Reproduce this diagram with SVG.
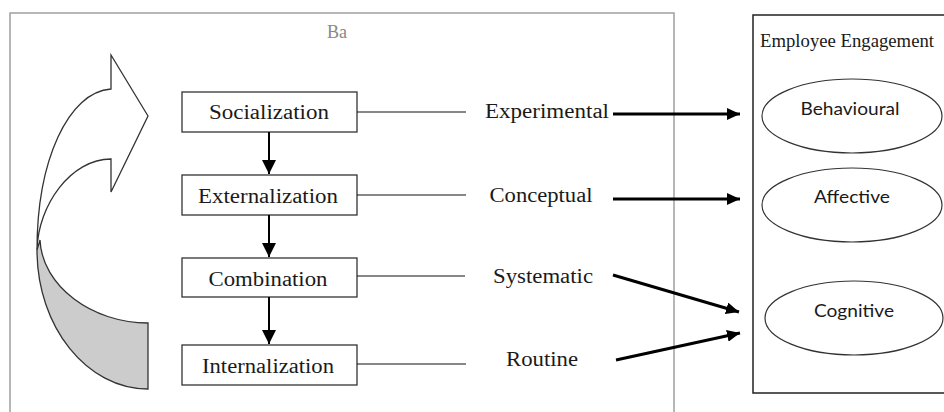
<svg xmlns="http://www.w3.org/2000/svg" width="944" height="412" viewBox="0 0 944 412">
<style>
.frame{fill:none;stroke:#a0a0a0;stroke-width:1.5}
.box{fill:#fff;stroke:#333;stroke-width:1.3}
.lbl{font-family:"Liberation Serif","Times New Roman",serif;font-size:20px;fill:#1a1a1a;text-anchor:middle}
.el{fill:#fff;stroke:#333;stroke-width:1.2}
.elt{font-family:Lato,"Liberation Sans",sans-serif;font-size:17px;fill:#1a1a1a;text-anchor:middle}
.thin{stroke:#111;stroke-width:1.2;fill:none}
.thick{stroke:#000;stroke-width:3;fill:none}
.vert{stroke:#000;stroke-width:2;fill:none}
.curve{stroke:#333;stroke-width:1.3}
</style>
<defs>
<marker id="ah" markerUnits="userSpaceOnUse" markerWidth="14" markerHeight="14" refX="14" refY="7" orient="auto" viewBox="0 0 14 14">
<path d="M0,0 L14,7 L0,14 Z" fill="#000"/>
</marker>
<marker id="ah2" markerUnits="userSpaceOnUse" markerWidth="13" markerHeight="12" refX="13" refY="6" orient="auto" viewBox="0 0 13 12">
<path d="M0,0 L13,6 L0,12 Z" fill="#000"/>
</marker>
</defs>
<rect x="0" y="0" width="944" height="412" fill="#fff"/>
<g id="ba">
<path class="frame" d="M10,420 V13 H674 V420"/>
<text x="337" y="38" style="font-family:'Liberation Serif',serif;font-size:18px;fill:#888;text-anchor:middle">Ba</text>
</g>
<g id="cycle-arrow">
<path class="curve" fill="#fff" d="M148,116 L111,55 L111,89 C68,92 37,161 37,250 C38,205 71,159 111,159 L111,192 Z"/>
<path class="curve" fill="#cccccc" d="M40,240 C42,286 92,323 148,323 L148,389 C87,389 37,327 37,250 Z"/>
</g>
<g id="socialization">
<rect class="box" x="182" y="92" width="175" height="40"/>
<text class="lbl" x="269" y="119" textLength="120" lengthAdjust="spacingAndGlyphs">Socialization</text>
</g>
<g id="externalization">
<rect class="box" x="182" y="175" width="175" height="40"/>
<text class="lbl" x="268" y="203" textLength="140" lengthAdjust="spacingAndGlyphs">Externalization</text>
</g>
<g id="combination">
<rect class="box" x="182" y="258" width="175" height="39"/>
<text class="lbl" x="268" y="286" textLength="119" lengthAdjust="spacingAndGlyphs">Combination</text>
</g>
<g id="internalization">
<rect class="box" x="182" y="345" width="175" height="40"/>
<text class="lbl" x="268" y="373" textLength="132" lengthAdjust="spacingAndGlyphs">Internalization</text>
</g>
<g id="experimental">
<text class="lbl" x="547" y="118" textLength="124" lengthAdjust="spacingAndGlyphs">Experimental</text>
</g>
<g id="conceptual">
<text class="lbl" x="541" y="202" textLength="103" lengthAdjust="spacingAndGlyphs">Conceptual</text>
</g>
<g id="systematic">
<text class="lbl" x="543" y="283" textLength="100" lengthAdjust="spacingAndGlyphs">Systematic</text>
</g>
<g id="routine">
<text class="lbl" x="542" y="366" textLength="72" lengthAdjust="spacingAndGlyphs">Routine</text>
</g>
<g id="employee-engagement">
<path d="M944,15 H753 V393 H944" fill="none" stroke="#222" stroke-width="1.5"/>
<text x="760" y="47" textLength="174" lengthAdjust="spacingAndGlyphs" style="font-family:'Liberation Serif',serif;font-size:19px;fill:#1a1a1a">Employee Engagement</text>
</g>
<g id="behavioural">
<ellipse class="el" cx="852" cy="116" rx="90" ry="37"/>
<text class="elt" x="850" y="115" textLength="99" lengthAdjust="spacingAndGlyphs">Behavioural</text>
</g>
<g id="affective">
<ellipse class="el" cx="852" cy="205" rx="90" ry="37"/>
<text class="elt" x="852" y="203" textLength="76" lengthAdjust="spacingAndGlyphs">Affective</text>
</g>
<g id="cognitive">
<ellipse class="el" cx="854" cy="318" rx="89" ry="37"/>
<text class="elt" x="854" y="317" textLength="80" lengthAdjust="spacingAndGlyphs">Cognitive</text>
</g>
<g id="connectors">
<line class="vert" x1="269" y1="132" x2="269" y2="174" marker-end="url(#ah)"/>
<line class="vert" x1="269" y1="215" x2="269" y2="257" marker-end="url(#ah)"/>
<line class="vert" x1="269" y1="297" x2="269" y2="344" marker-end="url(#ah)"/>
<line class="thin" x1="357" y1="112" x2="466" y2="112"/>
<line class="thin" x1="357" y1="195" x2="466" y2="195"/>
<line class="thin" x1="357" y1="276" x2="465" y2="276"/>
<line class="thin" x1="357" y1="364" x2="466" y2="364"/>
<line class="thick" x1="613" y1="114" x2="740" y2="114" marker-end="url(#ah2)"/>
<line class="thick" x1="613" y1="199" x2="740" y2="199" marker-end="url(#ah2)"/>
<line class="thick" x1="613" y1="275" x2="739" y2="312" marker-end="url(#ah2)"/>
<line class="thick" x1="616" y1="360" x2="740" y2="333" marker-end="url(#ah2)"/>
</g>
</svg>
